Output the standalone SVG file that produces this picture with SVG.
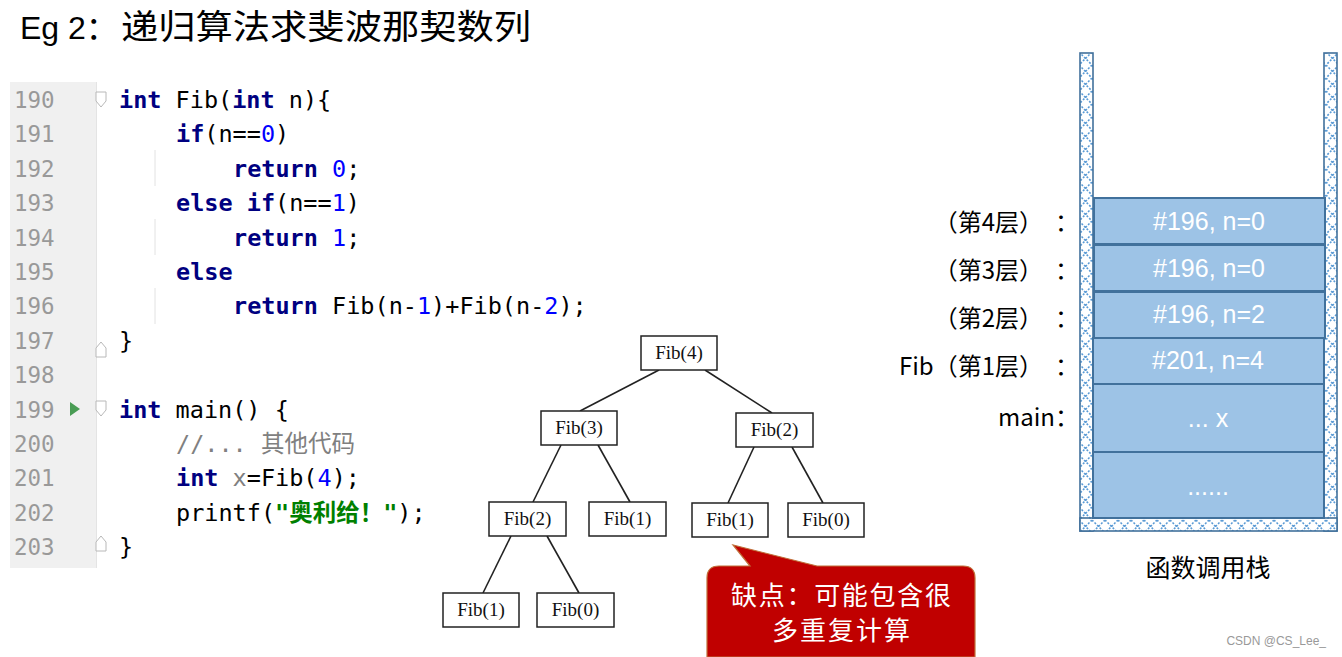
<svg xmlns="http://www.w3.org/2000/svg" width="1342" height="657" viewBox="0 0 1342 657">
<defs>
<pattern id="hatch" width="13" height="13" patternUnits="userSpaceOnUse">
<rect width="13" height="13" fill="#ffffff"/>
<path d="M0,0 L13,13 M13,0 L0,13" stroke="#5b9bd5" stroke-width="1.6" stroke-dasharray="2,1.6" fill="none"/>
</pattern>
<style>
.code{font-family:"DejaVu Sans Mono","Noto Sans CJK SC",monospace;font-size:23.5px;fill:#000000}
.ln{font-family:"DejaVu Sans Mono",monospace;font-size:22.5px;fill:#999999}
.k{fill:#000080;font-weight:bold}
.n{fill:#0000ff}
.s{fill:#008000;font-weight:bold}
.c{fill:#808080}
.g{fill:#808080}
.box{fill:#ffffff;stroke:#222222;stroke-width:1.5}
.bt{font-family:"Liberation Serif",serif;font-size:19px;fill:#111111;text-anchor:middle}
.edge{stroke:#222222;stroke-width:1.6;fill:none}
.wall{fill:url(#hatch);stroke:#41719c;stroke-width:1.6}
.frame{fill:#9dc3e6;stroke:#41719c;stroke-width:2}
.ft{font-family:"Liberation Sans","Noto Sans CJK SC",sans-serif;font-size:25px;fill:#ffffff;text-anchor:middle}
.lab{font-family:"Noto Sans CJK SC",sans-serif;font-size:24px;fill:#000000;text-anchor:end}
.fold{fill:#ffffff;stroke:#b8b8b8;stroke-width:1}
.guide{stroke:#e2e2e2;stroke-width:1}
</style>
</defs>
<rect width="1342" height="657" fill="#ffffff"/>

<g id="title">
<text x="20" y="39" font-family="'Liberation Sans','Noto Sans CJK SC',sans-serif" font-size="32" fill="#000">Eg 2：</text>
<text x="121" y="39" font-family="'Noto Sans CJK SC',sans-serif" font-size="34" fill="#000" textLength="410" lengthAdjust="spacingAndGlyphs">递归算法求斐波那契数列</text>
</g>

<g id="code">
<rect x="10" y="82" width="86" height="486" fill="#f0f0f0"/>
<line x1="96.5" y1="82" x2="96.5" y2="568" stroke="#e4e4e4" stroke-width="1"/>
<line class="guide" x1="155" y1="150" x2="155" y2="186"/>
<line class="guide" x1="155" y1="219" x2="155" y2="255"/>
<line class="guide" x1="155" y1="288" x2="155" y2="324"/>
<path class="fold" d="M96,92 H106 V101 L101,107 L96,101 Z"/>
<path class="fold" d="M96,348 L101,342 L106,348 V357 H96 Z"/>
<path class="fold" d="M96,401 H106 V410 L101,416 L96,410 Z"/>
<path class="fold" d="M96,542 L101,536 L106,542 V551 H96 Z"/>
<path d="M70,402 L80,409 L70,416 Z" fill="#499c54"/>
<text class="ln" x="14" y="108">190</text>
<text class="ln" x="14" y="142.4">191</text>
<text class="ln" x="14" y="176.8">192</text>
<text class="ln" x="14" y="211.2">193</text>
<text class="ln" x="14" y="245.6">194</text>
<text class="ln" x="14" y="280">195</text>
<text class="ln" x="14" y="314.4">196</text>
<text class="ln" x="14" y="348.8">197</text>
<text class="ln" x="14" y="383.2">198</text>
<text class="ln" x="14" y="417.6">199</text>
<text class="ln" x="14" y="452">200</text>
<text class="ln" x="14" y="486.4">201</text>
<text class="ln" x="14" y="520.8">202</text>
<text class="ln" x="14" y="555.2">203</text>
<text class="code" x="119" y="108" xml:space="preserve"><tspan class="k">int</tspan> Fib(<tspan class="k">int</tspan> n){</text>
<text class="code" x="176" y="142.4" xml:space="preserve"><tspan class="k">if</tspan>(n==<tspan class="n">0</tspan>)</text>
<text class="code" x="233" y="176.8" xml:space="preserve"><tspan class="k">return</tspan> <tspan class="n">0</tspan>;</text>
<text class="code" x="176" y="211.2" xml:space="preserve"><tspan class="k">else if</tspan>(n==<tspan class="n">1</tspan>)</text>
<text class="code" x="233" y="245.6" xml:space="preserve"><tspan class="k">return</tspan> <tspan class="n">1</tspan>;</text>
<text class="code" x="176" y="280" xml:space="preserve"><tspan class="k">else</tspan></text>
<text class="code" x="233" y="314.4" xml:space="preserve"><tspan class="k">return</tspan> Fib(n-<tspan class="n">1</tspan>)+Fib(n-<tspan class="n">2</tspan>);</text>
<text class="code" x="119" y="348.8">}</text>
<text class="code" x="119" y="417.6" xml:space="preserve"><tspan class="k">int</tspan> main() {</text>
<text class="code c" x="176" y="452" xml:space="preserve">//... 其他代码</text>
<text class="code" x="176" y="486.4" xml:space="preserve"><tspan class="k">int</tspan> <tspan class="g">x</tspan>=Fib(<tspan class="n">4</tspan>);</text>
<text class="code" x="176" y="520.8" xml:space="preserve">printf(<tspan class="s">"奥利给！"</tspan>);</text>
<text class="code" x="119" y="555.2">}</text>
</g>

<g id="connectors">
<line class="edge" x1="659" y1="370" x2="580" y2="411"/>
<line class="edge" x1="705" y1="370" x2="772" y2="413"/>
<line class="edge" x1="561" y1="445" x2="533" y2="502"/>
<line class="edge" x1="598" y1="445" x2="630" y2="502"/>
<line class="edge" x1="754" y1="447" x2="728" y2="503"/>
<line class="edge" x1="792" y1="447" x2="823" y2="503"/>
<line class="edge" x1="511" y1="536" x2="483" y2="593"/>
<line class="edge" x1="547" y1="536" x2="579" y2="593"/>
</g>

<g id="fib4"><rect class="box" x="641" y="336" width="76" height="34"/><text class="bt" x="679" y="359">Fib(4)</text></g>
<g id="fib3"><rect class="box" x="541" y="411" width="76" height="34"/><text class="bt" x="579" y="434">Fib(3)</text></g>
<g id="fib2r"><rect class="box" x="736" y="413" width="77" height="34"/><text class="bt" x="774.5" y="436">Fib(2)</text></g>
<g id="fib2l"><rect class="box" x="489" y="502" width="77" height="34"/><text class="bt" x="527.5" y="525">Fib(2)</text></g>
<g id="fib1a"><rect class="box" x="589" y="502" width="77" height="34"/><text class="bt" x="627.5" y="525">Fib(1)</text></g>
<g id="fib1b"><rect class="box" x="692" y="503" width="76" height="34"/><text class="bt" x="730" y="526">Fib(1)</text></g>
<g id="fib0a"><rect class="box" x="788" y="503" width="76" height="34"/><text class="bt" x="826" y="526">Fib(0)</text></g>
<g id="fib1c"><rect class="box" x="443" y="593" width="76" height="34"/><text class="bt" x="481" y="616">Fib(1)</text></g>
<g id="fib0b"><rect class="box" x="537" y="593" width="77" height="34"/><text class="bt" x="575.5" y="616">Fib(0)</text></g>

<g id="callout">
<path d="M719,566 H750 L733,545 L817,566 H963 Q975,566 975,578 V657 H707 V578 Q707,566 719,566 Z" fill="#c00000" stroke="#c0703a" stroke-width="1.2"/>
<text x="841" y="605" font-family="'Noto Sans CJK SC',sans-serif" font-size="26" fill="#ffffff" text-anchor="middle" textLength="220" lengthAdjust="spacing">缺点：可能包含很</text>
<text x="841" y="640" font-family="'Noto Sans CJK SC',sans-serif" font-size="26" fill="#ffffff" text-anchor="middle" textLength="138" lengthAdjust="spacing">多重复计算</text>
</g>

<g id="stack">
<rect class="wall" x="1080" y="53" width="13" height="478"/>
<rect class="wall" x="1324" y="53" width="13" height="478"/>
<rect class="wall" x="1080" y="518" width="257" height="13"/>
</g>

<g id="frame4"><rect class="frame" x="1094" y="198" width="231" height="46"/><text class="ft" x="1209" y="230">#196, n=0</text></g>
<g id="frame3"><rect class="frame" x="1094" y="245" width="231" height="46"/><text class="ft" x="1209" y="277">#196, n=0</text></g>
<g id="frame2"><rect class="frame" x="1094" y="292" width="231" height="46"/><text class="ft" x="1209" y="323">#196, n=2</text></g>
<g id="frame1"><rect class="frame" x="1093" y="338" width="231" height="46"/><text class="ft" x="1208" y="369">#201, n=4</text></g>
<g id="framemain"><rect class="frame" x="1093" y="384" width="231" height="68"/><text class="ft" x="1208" y="427">... x</text></g>
<g id="framebottom"><rect class="frame" x="1093" y="452" width="231" height="66"/><text class="ft" x="1208" y="495">......</text></g>

<g id="labels">
<text class="lab" x="1079" y="231"><tspan>（</tspan><tspan>第4层）</tspan><tspan dx="24">：</tspan></text>
<text class="lab" x="1079" y="279"><tspan>（</tspan><tspan>第3层）</tspan><tspan dx="24">：</tspan></text>
<text class="lab" x="1079" y="327"><tspan>（</tspan><tspan>第2层）</tspan><tspan dx="24">：</tspan></text>
<text class="lab" x="1079" y="375"><tspan>Fib</tspan><tspan>（</tspan><tspan>第1层）</tspan><tspan dx="24">：</tspan></text>
<text class="lab" x="1079" y="426"><tspan>main</tspan><tspan>：</tspan></text>
<text x="1208" y="577" font-family="'Noto Sans CJK SC',sans-serif" font-size="25" fill="#000" text-anchor="middle">函数调用栈</text>
<text x="1326" y="645" font-family="'Liberation Sans',sans-serif" font-size="12" fill="#999999" text-anchor="end">CSDN @CS_Lee_</text>
</g>
</svg>
